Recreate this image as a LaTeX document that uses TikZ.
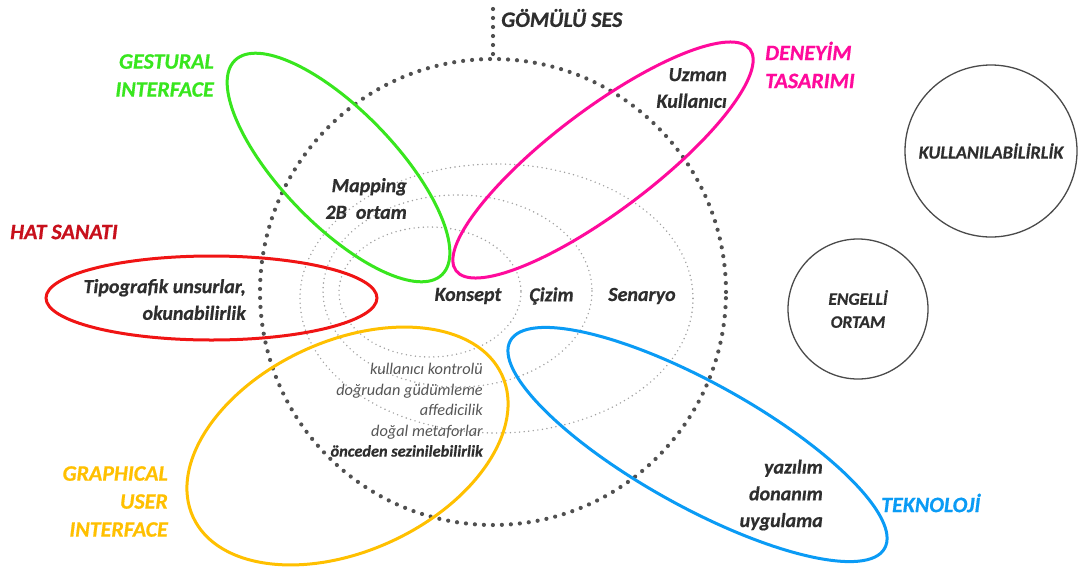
\documentclass[tikz,border=0pt]{standalone}
\usepackage{fontspec}
\setmainfont{Carlito}[BoldItalicFeatures={FakeBold=0.6}]
\definecolor{cgreen}{HTML}{38E61E}
\definecolor{cmag}{HTML}{FF0A9C}
\definecolor{cred}{HTML}{F01414}
\definecolor{cdred}{HTML}{C8101C}
\definecolor{cyel}{HTML}{FFC000}
\definecolor{cblue}{HTML}{0A9BF5}
\definecolor{ctext}{HTML}{2E2E2E}
\definecolor{clist}{HTML}{555555}
\definecolor{cdots}{HTML}{505050}
\definecolor{cfine}{HTML}{A0A0A0}
\definecolor{cring}{HTML}{4A4A4A}
\begin{document}
\begin{tikzpicture}[x=1pt,y=-1pt,
  bigdots/.style={draw=cdots, line width=4.2pt, dash pattern=on 0pt off 9pt, line cap=round},
  finedots/.style={draw=cfine, line width=1.6pt, dash pattern=on 0pt off 4.6pt, line cap=round},
  ring/.style={line width=3pt},
  lbl/.style={font=\fontsize{22}{28}\selectfont\bfseries\itshape, inner sep=0pt},
  txt/.style={font=\fontsize{20}{26.7}\selectfont\bfseries\itshape, text=ctext, inner sep=0pt},
  lst/.style={font=\fontsize{16.3}{20.5}\selectfont\itshape, text=clist, inner sep=0pt},
  bubble/.style={circle, draw=cring, line width=1.3pt, inner sep=0pt,
    font=\fontsize{17.5}{23}\selectfont\bfseries\itshape, text=ctext, align=center}]
\fill[white] (0,0) rectangle (1078,568);
\useasboundingbox (0,0) rectangle (1078,568);

% inner fine dotted ellipses
\draw[finedots] (496.5,298.5) ellipse [x radius=196.5, y radius=134.5];
\draw[finedots] (457.5,291) ellipse [x radius=134.5, y radius=96];
\draw[finedots] (430,292) ellipse [x radius=91, y radius=65];

% big dotted circle
\node[circle, bigdots, minimum size=466pt, inner sep=0pt] (sound) at (493,292) {};
\coordinate (gtop) at (493,9);
\draw[bigdots] (gtop) -- (sound.north);

% coloured ellipses
\draw[ring, cgreen, rotate around={-46:(338.5,167.5)}] (338.5,167.5) ellipse [x radius=149, y radius=57];
\draw[ring, cmag, rotate around={37:(603,160)}] (603,160) ellipse [x radius=184, y radius=51];
\draw[ring, cred] (211.5,298) ellipse [x radius=165.5, y radius=42];
\draw[ring, cyel, rotate around={24.7:(347.5,446)}] (347.5,446) ellipse [x radius=170, y radius=105];
\draw[ring, cblue, rotate around={-29:(697.5,444.5)}] (697.5,444.5) ellipse [x radius=214, y radius=62];

% side circles
\node[bubble, minimum size=172pt] (kull) at (991,151) {\fontsize{18.3}{23}\selectfont KULLANILABİLİRLİK};
\node[bubble, minimum size=140pt] (engel) at (858,309) {ENGELLİ\\ORTAM};

% labels
\node[lbl, text=ctext, anchor=west] (gomulu) at (501,18) {GÖMÜLÜ SES};
\node[lbl, text=cgreen, anchor=east, align=right] (gest) at (214,75.5) {GESTURAL\\INTERFACE};
\node[lbl, text=cdred, anchor=west] (hat) at (10,232) {HAT SANATI};
\node[lbl, text=cmag, anchor=west, align=left] (deneyim) at (765,65) {DENEYİM\\TASARIMI};
\node[lbl, text=cyel, anchor=east, align=right] (gui) at (168,501.5) {GRAPHICAL\\USER\\INTERFACE};
\node[lbl, text=cblue, anchor=west] (tekno) at (881,503) {TEKNOLOJİ};

% contents
\node[txt, anchor=east, align=right] (uzman) at (727,88) {Uzman\\Kullanıcı};
\node[txt, anchor=east, align=right] (mapping) at (407,198.5) {Mapping\\2B\ \ ortam};
\node[txt, anchor=east, align=right] (tipo) at (246,299.5) {Tipografik unsurlar,\\okunabilirlik};
\node[txt] (konsept) at (468,296) {Konsept};
\node[txt] (cizim) at (551.5,296) {Çizim};
\node[txt] (senaryo) at (642,296) {Senaryo};
\node[lst, anchor=east, align=right] (ilke) at (483,410) {kullanıcı kontrolü\\doğrudan güdümleme\\affedicilik\\doğal metaforlar\\{\bfseries\color{ctext}önceden sezinilebilirlik}};
\node[txt, anchor=east, align=right] (tekicerik) at (823,495) {yazılım\\donanım\\uygulama};
\end{tikzpicture}
\end{document}
